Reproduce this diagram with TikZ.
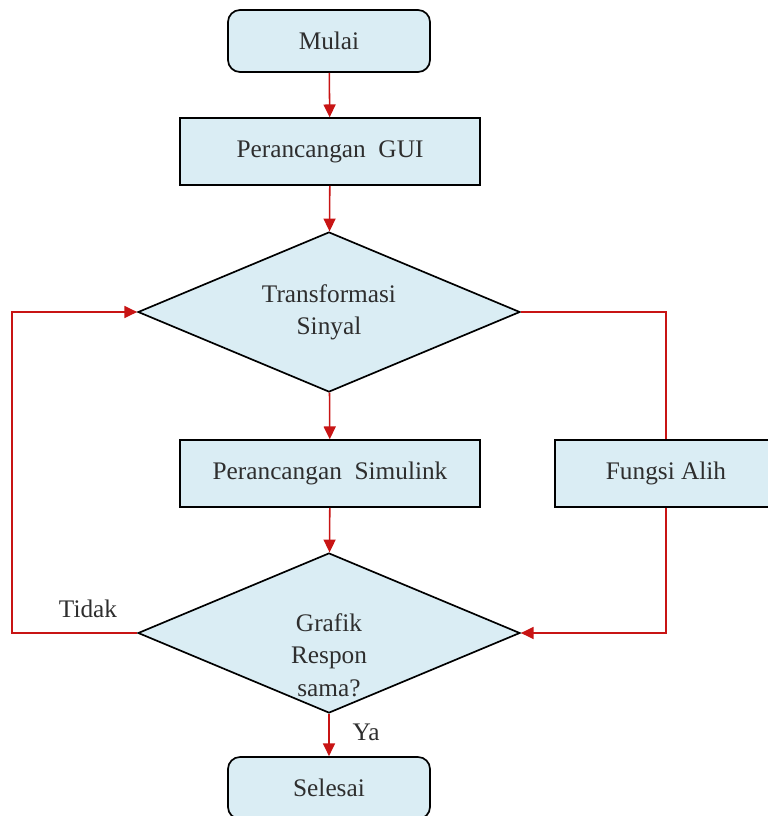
\documentclass[tikz,border=0pt]{standalone}
\usepackage{fontspec}
\setmainfont{Liberation Serif}
\usetikzlibrary{arrows.meta, shapes.geometric, positioning}
\definecolor{boxFill}{HTML}{DAEDF4}
\definecolor{flowRed}{HTML}{C81414}
\definecolor{txtGrey}{HTML}{2E2E2E}
\tikzset{
  lbl/.style      = {font=\fontsize{18}{23}\selectfont, txtGrey},
  terminal/.style = {lbl, rectangle, rounded corners=0.3cm, draw=black, line width=1.2pt,
                     fill=boxFill, minimum width=5.05cm, minimum height=1.55cm},
  process/.style  = {lbl, rectangle, draw=black, line width=1.2pt, fill=boxFill,
                     minimum width=7.5cm, minimum height=1.675cm},
  decision/.style = {lbl, diamond, draw=black, line width=1.2pt, fill=boxFill, align=center,
                     aspect=2.39, inner sep=0pt, minimum width=9.55cm, minimum height=4cm},
  flow/.style     = {-{Triangle[length=3.2mm, width=3mm]}, flowRed, line width=1.1pt},
  link/.style     = {flowRed, line width=1.1pt},
}
\begin{document}
\begin{tikzpicture}
\useasboundingbox (0,0) rectangle (19.2,-20.4);
% main column
\node[terminal] (mulai)    at (8.225,-1.025)  {Mulai};
\node[process]  (gui)      at (8.25,-3.79)    {Perancangan~ GUI};
\node[decision] (trans)    at (8.225,-7.8)    {Transformasi\\Sinyal};
\node[process]  (simulink) at (8.25,-11.84)   {Perancangan~ Simulink};
\node[decision] (grafik)   at (8.225,-15.825) {};
\node[lbl, align=center] (grafiktxt) at ([yshift=-0.55cm]grafik.center) {Grafik\\Respon\\sama?};
\node[terminal] (selesai)  at (8.225,-19.7)   {Selesai};
% side branch
\node[process, minimum width=5.55cm] (fungsi) at (16.65,-11.84) {Fungsi Alih};
\coordinate (loopL) at (0.3,-15.825);
% connectors
\draw[flow] (mulai) -- (gui);
\draw[flow] (gui) -- (trans);
\draw[flow] (trans) -- (simulink);
\draw[flow] (simulink) -- (grafik);
\draw[flow] (grafik) -- (selesai);
\draw[flow] (grafik.west) -- (loopL) |- (trans.west);
\draw[link] (trans.east) -| (fungsi.north);
\draw[flow] (fungsi.south) |- (grafik.east);
% branch labels
\node[lbl] (tidak) at (2.2,-15.225) {Tidak};
\node[lbl] (ya)    at (9.15,-18.3)  {Ya};
\end{tikzpicture}
\end{document}
